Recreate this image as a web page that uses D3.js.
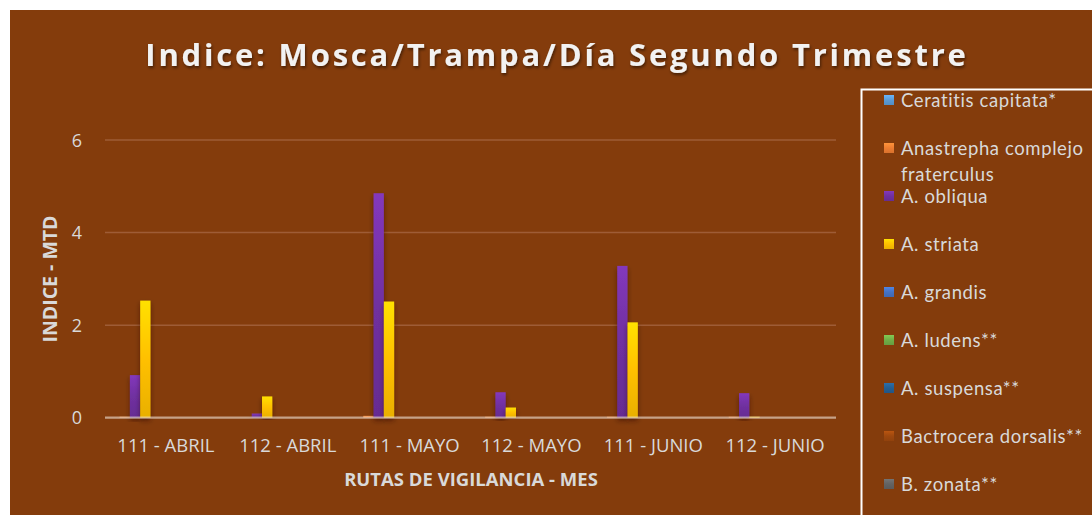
<!DOCTYPE html>
<html><head><meta charset="utf-8">
<script src="https://cdn.jsdelivr.net/npm/d3@7"></script>
<style>
html,body{margin:0;padding:0;background:#fff;}
svg{display:block;}
text{font-family:"Open Sans",Lato,sans-serif;}
</style></head>
<body>
<svg id="c" width="1092" height="515"></svg>
<script>
const categories = ["111 - ABRIL","112 - ABRIL","111 - MAYO","112 - MAYO","111 - JUNIO","112 - JUNIO"];
const seriesNames = ["Ceratitis capitata*","Anastrepha complejo fraterculus","A. obliqua","A. striata","A. grandis","A. ludens**","A. suspensa**","Bactrocera dorsalis**","B. zonata**"];
const seriesColors = ["#5B9BD5","#ED7D31","#7030A0","#FFC000","#4472C4","#70AD47","#255E91","#9E480E","#636363"];
const ceratitis   = [0,0,0,0,0,0];
const fraterculus = [0.02,0,0.04,0.02,0.02,0.02];
const obliqua     = [0.92,0.09,4.85,0.55,3.28,0.53];
const striata     = [2.53,0.46,2.51,0.22,2.06,0.02];
const grandis     = [0,0,0,0,0,0];
const ludens      = [0,0,0,0,0,0];
const suspensa    = [0,0,0,0,0,0];
const dorsalis    = [0,0,0,0,0,0];
const zonata      = [0,0,0,0,0,0];
const seriesValues = [ceratitis,fraterculus,obliqua,striata,grandis,ludens,suspensa,dorsalis,zonata];
const yTicks = [0,2,4,6];
const slotCount = 11; // chart's bar slots per category (legend is cut off below)

const svg = d3.select("#c");
const defs = svg.append("defs");
svg.append("rect").attr("x",10).attr("y",10).attr("width",1082).attr("height",505).attr("fill","#843C0C");

const f = defs.append("filter").attr("id","sh").attr("x","-80%").attr("y","-10%").attr("width","260%").attr("height","120%");
f.append("feGaussianBlur").attr("in","SourceAlpha").attr("stdDeviation",2.8).attr("result","b");
f.append("feOffset").attr("in","b").attr("dx",0).attr("dy",3).attr("result","o");
f.append("feFlood").attr("flood-color","#2a0d00").attr("flood-opacity",0.5);
f.append("feComposite").attr("in2","o").attr("operator","in").attr("result","s");
const m = f.append("feMerge"); m.append("feMergeNode").attr("in","s"); m.append("feMergeNode").attr("in","SourceGraphic");

const tf = defs.append("filter").attr("id","tsh").attr("x","-5%").attr("y","-30%").attr("width","110%").attr("height","160%");
tf.append("feGaussianBlur").attr("in","SourceAlpha").attr("stdDeviation",1.5).attr("result","b");
tf.append("feOffset").attr("in","b").attr("dx",1).attr("dy",2).attr("result","o");
tf.append("feFlood").attr("flood-color","#000").attr("flood-opacity",0.5);
tf.append("feComposite").attr("in2","o").attr("operator","in").attr("result","s");
const tm = tf.append("feMerge"); tm.append("feMergeNode").attr("in","s"); tm.append("feMergeNode").attr("in","SourceGraphic");

seriesColors.forEach((c,i)=>{
  const g = defs.append("linearGradient").attr("id","g"+i).attr("x1",0).attr("y1",0).attr("x2",0).attr("y2",1);
  g.append("stop").attr("offset","0%").attr("stop-color",d3.color(c).brighter(0.45));
  g.append("stop").attr("offset","50%").attr("stop-color",c);
  g.append("stop").attr("offset","100%").attr("stop-color",d3.color(c).darker(0.25));
});

const x0 = d3.scaleBand().domain(categories).range([105,836]).paddingInner(0).paddingOuter(0);
const x1 = d3.scaleBand().domain(d3.range(slotCount)).range([0,x0.bandwidth()]).paddingOuter(0.42).paddingInner(0);
const y = d3.scaleLinear().domain([0,6]).range([417.7,140]);

// gridlines
svg.append("g").selectAll("line").data(yTicks.filter(d=>d>0)).join("line")
  .attr("x1",105).attr("x2",836).attr("y1",d=>y(d)).attr("y2",d=>y(d))
  .attr("stroke","#9e5c36").attr("stroke-width",1.5);

// bars
const bars = svg.append("g");
seriesValues.forEach((vals,si)=>{
  bars.append("g").selectAll("rect").data(vals.map((v,ci)=>({v,c:categories[ci]}))).join("rect")
    .filter(d=>d.v>0)
    .attr("x",d=>x0(d.c)+x1(si))
    .attr("width",x1.bandwidth())
    .attr("y",d=>y(d.v))
    .attr("height",d=>y(0)-y(d.v))
    .attr("fill","url(#g"+si+")")
    .attr("filter","url(#sh)");
});

// baseline
svg.append("line").attr("x1",105).attr("x2",836).attr("y1",y(0)).attr("y2",y(0))
  .attr("stroke","#f2e6dc").attr("stroke-opacity",0.6).attr("stroke-width",2.2);

// y tick labels
svg.append("g").selectAll("text").data(yTicks).join("text")
  .attr("x",82).attr("y",d=>y(d)+6.5).attr("text-anchor","end")
  .attr("fill","#d9d9d9").attr("font-size",18).text(d=>d);

// x tick labels
svg.append("g").selectAll("text").data(categories).join("text")
  .attr("x",d=>x0(d)+x0.bandwidth()/2).attr("y",452).attr("text-anchor","middle")
  .attr("fill","#d9d9d9").attr("font-size",18.5).text(d=>d);

// axis titles
svg.append("text").attr("x",471).attr("y",486).attr("text-anchor","middle")
  .attr("fill","#d9d9d9").attr("font-size",18.5).attr("font-weight","bold").text("RUTAS DE VIGILANCIA - MES");
svg.append("text").attr("transform","translate(57,279) rotate(-90)").attr("text-anchor","middle")
  .attr("fill","#d9d9d9").attr("font-size",19.5).attr("font-weight","bold").text("INDICE - MTD");

// title
svg.append("text").attr("x",557).attr("y",66).attr("text-anchor","middle")
  .attr("fill","#f2f2f2").attr("font-size",31).attr("font-weight","bold").attr("letter-spacing",2.8)
  .attr("filter","url(#tsh)").text("Indice: Mosca/Trampa/Día Segundo Trimestre");

// legend
svg.append("rect").attr("x",861.5).attr("y",89.5).attr("width",260).attr("height",460)
  .attr("fill","none").attr("stroke","#fff").attr("stroke-width",2);
const legY = [100,148,196,244,292,340,388,436,484];
const lg = svg.append("g");
seriesNames.forEach((n,i)=>{
  lg.append("rect").attr("x",884).attr("y",legY[i]-5).attr("width",10).attr("height",10).attr("fill","url(#g"+i+")");
  const t = lg.append("text").attr("x",901).attr("y",legY[i]+6.5).attr("fill","#d9d9d9")
    .style("font-family","Lato, sans-serif").attr("font-size",18.5).attr("letter-spacing",0.6);
  if(i===1){
    t.append("tspan").attr("x",901).text("Anastrepha complejo");
    t.append("tspan").attr("x",901).attr("dy",26).text("fraterculus");
  } else t.text(n);
});
</script>
</body></html>
